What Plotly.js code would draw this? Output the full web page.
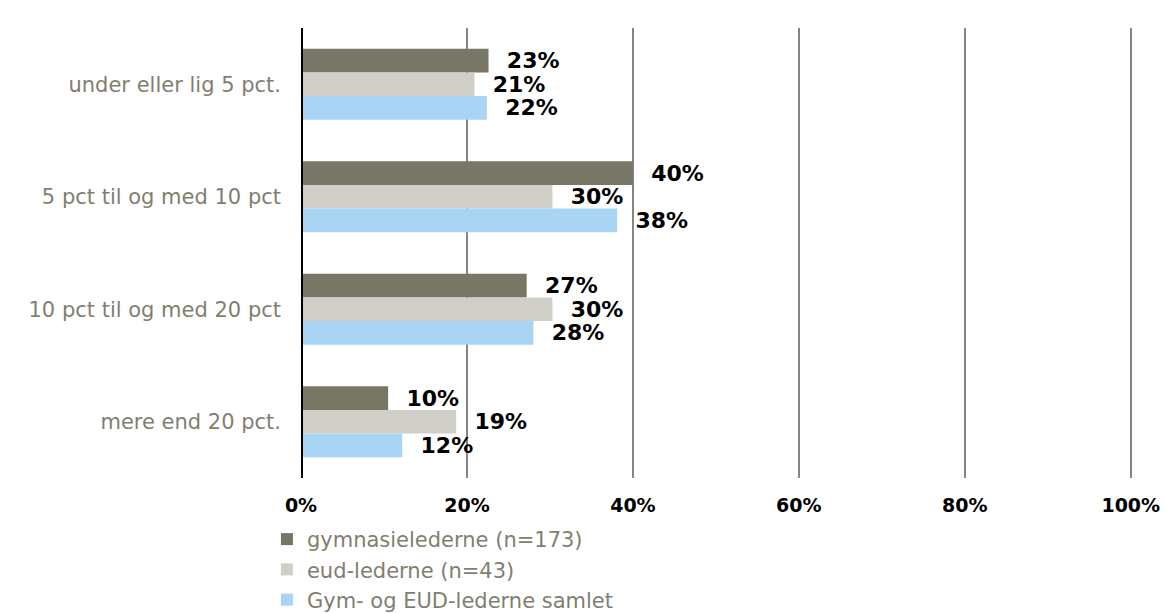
<!DOCTYPE html>
<html>
<head>
<meta charset="utf-8">
<script src="https://cdn.plot.ly/plotly-3.0.1.min.js"></script>
<style>html,body{margin:0;padding:0;background:#fff;}#chart{width:1166px;height:613px;}</style>
</head>
<body>
<div id="chart"></div>
<script>
const categories = ["under eller lig 5 pct.", "5 pct til og med 10 pct", "10 pct til og med 20 pct", "mere end 20 pct."];
const seriesNames = ["gymnasielederne (n=173)", "eud-lederne (n=43)", "Gym- og EUD-lederne samlet"];
const gymValues = [0.226, 0.40, 0.272, 0.105];
const eudValues = [0.209, 0.303, 0.303, 0.187];
const samletValues = [0.224, 0.381, 0.28, 0.122];
const gymLabels = ["23%", "40%", "27%", "10%"];
const eudLabels = ["21%", "30%", "30%", "19%"];
const samletLabels = ["22%", "38%", "28%", "12%"];
const xTickVals = [0, 0.2, 0.4, 0.6, 0.8, 1.0];
const xTickText = ["0%", "20%", "40%", "60%", "80%", "100%"];

const colors = ["#787664", "#d0cfc7", "#a9d4f4"];
const pad = "\u00a0\u00a0";
function mk(vals, labels, name, color, grp) {
  return {
    type: "bar", orientation: "h",
    x: vals, y: categories, name: name, legendgroup: grp,
    text: labels.map(l => pad + l),
    textposition: "outside", cliponaxis: false, constraintext: "none",
    textfont: {family: "DejaVu Sans", size: 22, color: "#000", weight: "bold"},
    marker: {color: color, line: {width: 0}},
    hoverinfo: "skip"
  };
}
const data = [
  mk(gymValues, gymLabels, seriesNames[0], colors[0], "a"),
  mk(eudValues, eudLabels, seriesNames[1], colors[1], "b"),
  mk(samletValues, samletLabels, seriesNames[2], colors[2], "c")
];
const layout = {
  width: 1166, height: 613,
  margin: {l: 301, r: 34, t: 28, b: 135, autoexpand: false},
  paper_bgcolor: "#fff", plot_bgcolor: "#fff",
  barmode: "group", bargap: 0.37, bargroupgap: 0,
  font: {family: "DejaVu Sans", color: "#7f7f70"},
  showlegend: true,
  legend: {
    orientation: "v", x: -0.041, xanchor: "left", y: -0.091, yanchor: "top",
    font: {family: "DejaVu Sans", size: 21, color: "#7f7f70"},
    tracegroupgap: 0, itemsizing: "constant", bgcolor: "rgba(0,0,0,0)"
  },
  xaxis: {
    range: [0, 1.0015], tickvals: xTickVals, ticktext: xTickText,
    showgrid: true, gridcolor: "#858585", gridwidth: 1.5,
    zeroline: false, showline: false, ticks: "",
    ticklabelstandoff: 14,
    tickfont: {family: "DejaVu Sans", size: 19, color: "#000", weight: "bold"},
    fixedrange: true
  },
  yaxis: {
    type: "category", autorange: "reversed",
    showgrid: false, zeroline: false, showline: false, ticks: "",
    ticklabelstandoff: 19,
    tickfont: {family: "DejaVu Sans", size: 21, color: "#7f7f70"},
    fixedrange: true
  },
  shapes: [{type: "line", xref: "x", yref: "paper", x0: 0, x1: 0, y0: 0, y1: 1, line: {color: "#000", width: 4}}]
};
Plotly.newPlot("chart", data, layout, {displayModeBar: false, staticPlot: true});
</script>
</body>
</html>
